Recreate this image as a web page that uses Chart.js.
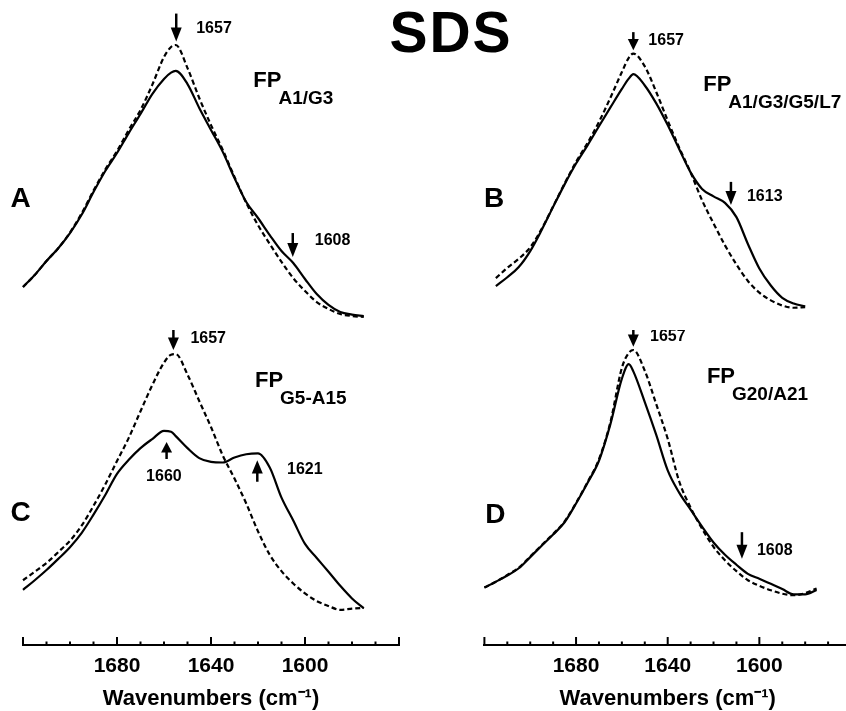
<!DOCTYPE html>
<html>
<head>
<meta charset="utf-8">
<script src="https://cdn.jsdelivr.net/npm/chart.js@4.4.1/dist/chart.umd.min.js"></script>
<style>
  html, body { margin: 0; padding: 0; background: #fff; overflow: hidden; width: 846px; height: 711px; }
  canvas { position: absolute; }
</style>
</head>
<body>
<canvas id="panelA" width="900" height="330" style="left:0;top:0"></canvas>
<canvas id="panelB" width="440" height="330" style="left:420px;top:0"></canvas>
<canvas id="panelC" width="420" height="381" style="left:0;top:330px"></canvas>
<canvas id="panelD" width="440" height="381" style="left:420px;top:330px"></canvas>
<script>
// wavenumber grid (cm-1) shared by the four spectra
const wavenumbers = [1720, 1715, 1710, 1705, 1700, 1695, 1690, 1685, 1680, 1675, 1670, 1665, 1660, 1657, 1655,
  1650, 1645, 1640, 1635, 1630, 1625, 1620, 1615, 1610, 1605, 1600, 1595, 1590, 1585, 1580, 1575];
const tickLabels = [1680, 1640, 1600];

// absorbance, normalised so the dashed peak is ~1
const solidA  = [0.151, 0.193, 0.242, 0.287, 0.340, 0.405, 0.484, 0.558, 0.621, 0.691, 0.758, 0.828, 0.881, 0.903, 0.909,
  0.863, 0.779, 0.702, 0.625, 0.533, 0.449, 0.393, 0.333, 0.277, 0.235, 0.179, 0.126, 0.088, 0.063, 0.054, 0.049];
const dashedA = [0.151, 0.193, 0.242, 0.287, 0.342, 0.410, 0.489, 0.563, 0.628, 0.702, 0.772, 0.860, 0.958, 0.993, 1.000,
  0.919, 0.814, 0.719, 0.632, 0.537, 0.446, 0.368, 0.302, 0.239, 0.182, 0.137, 0.098, 0.074, 0.056, 0.049, 0.046];

const solidB  = [null, 0.154, 0.185, 0.221, 0.277, 0.351, 0.432, 0.511, 0.584, 0.648, 0.715, 0.781, 0.846, 0.882, 0.898,
  0.858, 0.795, 0.719, 0.635, 0.553, 0.495, 0.469, 0.446, 0.396, 0.302, 0.216, 0.156, 0.113, 0.093, 0.083, null];
const dashedB = [null, 0.182, 0.218, 0.250, 0.290, 0.355, 0.434, 0.514, 0.590, 0.656, 0.730, 0.815, 0.905, 0.955, 0.970,
  0.925, 0.835, 0.735, 0.640, 0.553, 0.455, 0.374, 0.297, 0.230, 0.172, 0.131, 0.104, 0.086, 0.078, 0.080, null];

const solidC  = [0.181, 0.214, 0.249, 0.287, 0.327, 0.376, 0.438, 0.505, 0.577, 0.625, 0.665, 0.696, 0.724, 0.721, 0.706,
  0.665, 0.631, 0.618, 0.616, 0.633, 0.644, 0.647, 0.599, 0.496, 0.418, 0.338, 0.290, 0.243, 0.195, 0.152, 0.118];
const dashedC = [0.214, 0.243, 0.273, 0.310, 0.349, 0.401, 0.468, 0.541, 0.621, 0.700, 0.791, 0.880, 0.957, 0.984, 0.986,
  0.916, 0.826, 0.737, 0.640, 0.561, 0.476, 0.381, 0.301, 0.245, 0.203, 0.169, 0.143, 0.126, 0.113, 0.117, 0.120];

const solidD  = [0.189, 0.209, 0.230, 0.255, 0.293, 0.332, 0.370, 0.412, 0.476, 0.546, 0.622, 0.747, 0.902, 0.952, 0.927,
  0.822, 0.710, 0.589, 0.513, 0.455, 0.397, 0.343, 0.301, 0.267, 0.236, 0.219, 0.202, 0.184, 0.166, 0.166, 0.181];
const dashedD = [0.189, 0.209, 0.232, 0.257, 0.295, 0.334, 0.372, 0.415, 0.478, 0.549, 0.627, 0.754, 0.939, 0.990, 1.000,
  0.929, 0.815, 0.697, 0.552, 0.462, 0.390, 0.328, 0.282, 0.245, 0.214, 0.195, 0.180, 0.168, 0.163, 0.170, 0.186];

const titleText = 'SDS';
const axisTitle = 'Wavenumbers (cm\u207B\u00B9)';

Chart.defaults.font.family = '"Liberation Sans", Arial, sans-serif';
Chart.defaults.color = '#000';

function series(values) {
  return wavenumbers.map((w, i) => ({ x: w, y: values[i] }));
}

// letters, FP labels, arrows and the inward axis ticks
const marks = {
  id: 'marks',
  afterDraw(chart, args, o) {
    const ctx = chart.ctx;
    const xs = chart.scales.x, ys = chart.scales.y;
    const px = v => xs.getPixelForValue(v);
    const py = v => ys.getPixelForValue(v);
    ctx.save();
    ctx.fillStyle = '#000';
    ctx.strokeStyle = '#000';
    ctx.textBaseline = 'alphabetic';

    if (o.title) {
      ctx.font = 'bold 57px "Liberation Sans"';
      ctx.letterSpacing = '2px';
      ctx.textAlign = 'center';
      ctx.fillText(o.title, chart.width / 2 + 1, 52);
      ctx.letterSpacing = '0px';
    }

    ctx.font = 'bold 28px "Liberation Sans"';
    ctx.textAlign = 'center';
    ctx.fillText(o.letter, px(o.letterAt[0]), py(o.letterAt[1]) + 10);

    const fx = px(o.fpAt[0]), fy = py(o.fpAt[1]);
    ctx.textAlign = 'left';
    ctx.font = 'bold 22px "Liberation Sans"';
    ctx.fillText('FP', fx, fy + 8);
    const fw = ctx.measureText('FP').width;
    ctx.font = 'bold 19px "Liberation Sans"';
    ctx.fillText(o.sub, fx + fw - 3, fy + 18 + 7);

    ctx.font = 'bold 16px "Liberation Sans"';
    for (const a of o.arrows) {
      const x = px(a.at), tip = py(a.tip);
      const s = a.up ? 1 : -1;
      const head = Math.min(14, a.len * 0.62);
      ctx.lineWidth = 2.5;
      ctx.beginPath();
      ctx.moveTo(x, tip + s * a.len);
      ctx.lineTo(x, tip + s * (head - 1));
      ctx.stroke();
      ctx.beginPath();
      ctx.moveTo(x, tip);
      ctx.lineTo(x - 5.5, tip + s * head);
      ctx.lineTo(x + 5.5, tip + s * head);
      ctx.closePath();
      ctx.fill();
      ctx.textAlign = a.center ? 'center' : 'left';
      ctx.fillText(a.label, x + a.dx, tip + a.dy + 6);
    }

    if (xs.options.display) {
      ctx.lineWidth = 2;
      for (const t of xs.ticks) {
        const x = px(t.value);
        const len = t.value % 40 === 0 ? 8 : 3.5;
        ctx.beginPath();
        ctx.moveTo(x, xs.top);
        ctx.lineTo(x, xs.top - len);
        ctx.stroke();
      }
    }
    ctx.restore();
  }
};

function makeChart(id, cfg) {
  return new Chart(document.getElementById(id), {
    type: 'line',
    data: {
      datasets: [
        { data: series(cfg.solid), borderColor: '#000', borderWidth: 2.2, clip: false },
        { data: series(cfg.dashed), borderColor: '#000', borderWidth: 2.2, borderDash: [5, 3], clip: false }
      ]
    },
    options: {
      responsive: false,
      animation: false,
      layout: { padding: cfg.padding },
      elements: { point: { radius: 0 }, line: { cubicInterpolationMode: 'monotone' } },
      scales: {
        x: {
          type: 'linear', reverse: true, min: 1560, max: 1720,
          display: cfg.axis,
          grid: { display: true, drawOnChartArea: false, drawTicks: false },
          border: { display: true, color: '#000', width: 2 },
          ticks: {
            stepSize: 10, autoSkip: false, maxRotation: 0, minRotation: 0, padding: 8.2,
            color: '#000', font: { size: 21, weight: 'bold' },
            callback: v => tickLabels.includes(v) ? String(v) : ''
          },
          title: {
            display: true, text: axisTitle, color: '#000',
            font: { size: 22, weight: 'bold', lineHeight: 1 },
            padding: { top: 0.9, bottom: 1.5 }
          }
        },
        y: { min: cfg.yMin, max: 1, display: false }
      },
      plugins: { legend: { display: false }, tooltip: { enabled: false }, marks: cfg.marks }
    },
    plugins: [marks]
  });
}

makeChart('panelA', {
  solid: solidA, dashed: dashedA, axis: false, yMin: 0,
  padding: { left: 23, right: 501, top: 45, bottom: 0 },
  marks: {
    title: titleText, letter: 'A', letterAt: [1721, 0.465],
    fpAt: [1622, 0.882], sub: 'A1/G3',
    arrows: [
      { at: 1654.8, tip: 1.012, len: 28, label: '1657', dx: 20, dy: -15 },
      { at: 1605.2, tip: 0.256, len: 24, label: '1608', dx: 22, dy: -18 }
    ]
  }
});

makeChart('panelB', {
  solid: solidB, dashed: dashedB, axis: false, yMin: 0,
  padding: { left: 64.4, right: 9, top: 45, bottom: 0 },
  marks: {
    letter: 'B', letterAt: [1715.8, 0.467],
    fpAt: [1624.5, 0.865], sub: 'A1/G3/G5/L7',
    arrows: [
      { at: 1655, tip: 0.982, len: 18, label: '1657', dx: 15, dy: -11 },
      { at: 1612.4, tip: 0.439, len: 23, label: '1613', dx: 16, dy: -10 }
    ]
  }
});

makeChart('panelC', {
  solid: solidC, dashed: dashedC, axis: true, yMin: -0.007,
  padding: { left: 23, right: 21, top: 20, bottom: 0 },
  marks: {
    letter: 'C', letterAt: [1721, 0.451],
    fpAt: [1621.3, 0.902], sub: 'G5-A15',
    arrows: [
      { at: 1656, tip: 1.0, len: 20, label: '1657', dx: 17, dy: -13.3 },
      { at: 1658.9, tip: 0.686, len: 17, up: true, label: '1660', dx: -2.7, dy: 32.7, center: true },
      { at: 1620.3, tip: 0.624, len: 21.6, up: true, label: '1621', dx: 29.7, dy: 8.3 }
    ]
  }
});

makeChart('panelD', {
  solid: solidD, dashed: dashedD, axis: true, yMin: -0.007,
  padding: { left: 64.4, right: 9, top: 20, bottom: 0 },
  marks: {
    letter: 'D', letterAt: [1715.2, 0.444],
    fpAt: [1622.9, 0.916], sub: 'G20/A21',
    arrows: [
      { at: 1655, tip: 1.011, len: 20, label: '1657', dx: 16.7, dy: -11.7 },
      { at: 1607.6, tip: 0.287, len: 26.7, label: '1608', dx: 15, dy: -10 }
    ]
  }
});
</script>
</body>
</html>
